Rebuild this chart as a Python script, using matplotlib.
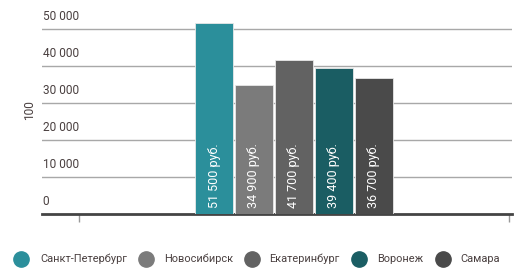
import matplotlib.pyplot as plt
from matplotlib.lines import Line2D

# --- Dados ---
cidades = ["Санкт-Петербург", "Новосибирск", "Екатеринбург", "Воронеж", "Самара"]
salarios = [51500, 34900, 41700, 39400, 36700]
rotulos = ["51 500 руб.", "34 900 руб.", "41 700 руб.", "39 400 руб.", "36 700 руб."]
y_ticks = [0, 10000, 20000, 30000, 40000, 50000]
y_tick_labels = ["0", "10 000", "20 000", "30 000", "40 000", "50 000"]

cores = ["#2b8f9b", "#7b7b7b", "#626262", "#1a5d63", "#4a4a4a"]
COR_TEXTO = "#4a4040"

plt.rcParams["font.family"] = ["Roboto", "DejaVu Sans"]

fig = plt.figure(figsize=(5.22, 2.78), dpi=100)
ax = fig.add_axes([42 / 522, 64 / 278, 470 / 522, 203.5 / 278])

largura = 0.088
passo = 0.093
for i, (v, c, r) in enumerate(zip(salarios, cores, rotulos)):
    x = (i - 2) * passo
    ax.bar(x, v, width=largura, color=c, edgecolor="#e8e8e8", linewidth=0.6, zorder=3)
    ax.text(x, 1600, r, rotation=90, ha="center", va="bottom",
            color="white", fontsize=9, zorder=4)

ax.set_xlim(-0.586, 0.507)
ax.set_ylim(0, 55000)

for yv, lab in zip(y_ticks, y_tick_labels):
    if yv > 0:
        ax.axhline(yv, color="#a8a8a8", lw=1, zorder=1)
    ax.text(-0.584, yv + 1500, lab, ha="left", va="bottom",
            color=COR_TEXTO, fontsize=8.6)

ax.set_yticks([])
ax.set_xticks([-0.5, 0.5])
ax.set_xticklabels([])
ax.tick_params(axis="x", direction="out", length=6, width=1, color="#999999")
for s in ["top", "right", "left"]:
    ax.spines[s].set_visible(False)
ax.spines["bottom"].set_color("#444444")
ax.spines["bottom"].set_linewidth(2)
ax.patch.set_alpha(0)

fig.text(30 / 522, 1 - 110 / 278, "100", rotation=90, ha="center", va="center",
         color=COR_TEXTO, fontsize=8.6)

# legenda manual, itens posicionados como na referencia
leg_marcador_x = [20.5, 145.5, 251.5, 359, 442.5]
leg_texto_x = [40, 164, 269, 377.5, 460.5]
leg_y = 1 - 259 / 278
for mx, tx, c, nome in zip(leg_marcador_x, leg_texto_x, cores, cidades):
    fig.add_artist(Line2D([mx / 522], [leg_y], marker="o", markersize=11,
                          markerfacecolor=c, markeredgecolor=c, ls="none",
                          transform=fig.transFigure))
    fig.text(tx / 522, leg_y, nome, ha="left", va="center",
             color=COR_TEXTO, fontsize=7.9)

fig.savefig("out.png", dpi=100)
